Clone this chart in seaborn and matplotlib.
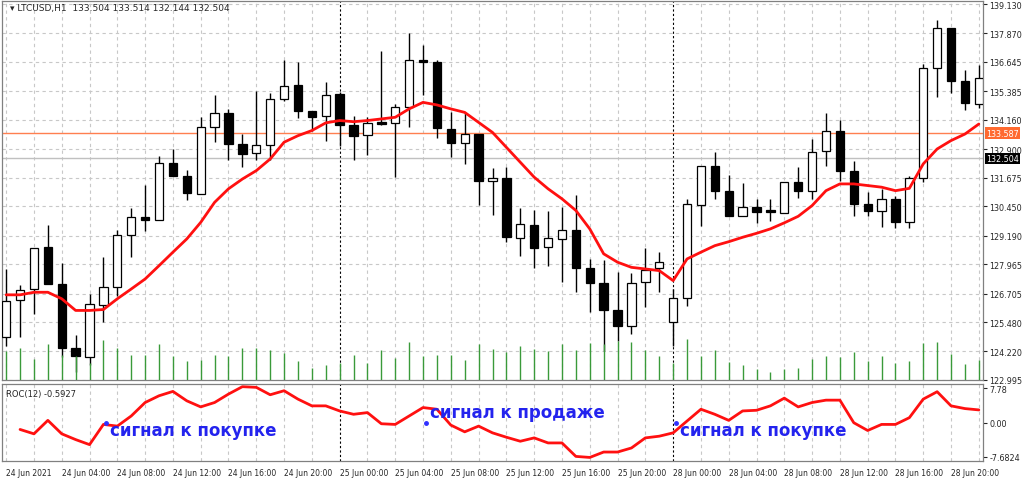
import numpy as np
import pandas as pd
import matplotlib
matplotlib.use("Agg")
import matplotlib.pyplot as plt
import seaborn as sns

# --- данные ---
opens = [124.83, 126.43, 126.89, 128.69, 127.12, 124.37, 123.97, 126.22, 127.00, 129.21,
         129.98, 129.88, 132.32, 131.75, 130.96, 133.85, 134.44, 133.14, 132.74, 133.10,
         135.05, 135.66, 134.55, 134.31, 135.28, 133.94, 133.51, 134.05, 134.01, 134.73,
         136.70, 136.66, 133.77, 133.18, 133.57, 131.52, 131.67, 129.11, 129.65, 128.69,
         129.04, 129.43, 127.79, 127.17, 126.02, 125.30, 127.19, 127.79, 125.47, 126.52,
         130.52, 132.17, 131.12, 130.02, 130.41, 130.25, 130.18, 131.50, 131.12, 132.81,
         133.70, 131.98, 130.55, 130.25, 130.77, 129.77, 131.65, 136.37, 138.09, 135.81,
         134.83]
closes = [126.40, 126.86, 128.65, 127.12, 124.37, 124.04, 126.26, 127.00, 129.21, 129.98,
          129.88, 132.32, 131.75, 131.01, 133.84, 134.44, 133.14, 132.70, 133.08, 135.07,
          135.61, 134.53, 134.30, 135.24, 133.93, 133.48, 134.01, 133.99, 134.73, 136.74,
          136.66, 133.82, 133.18, 133.57, 131.52, 131.67, 129.12, 129.68, 128.68, 129.08,
          129.43, 127.79, 127.17, 126.02, 125.30, 127.15, 127.73, 128.08, 126.50, 130.56,
          132.17, 131.11, 130.05, 130.41, 130.22, 130.22, 131.50, 131.12, 132.77, 133.70,
          131.97, 130.55, 130.25, 130.77, 129.77, 131.68, 136.37, 138.09, 135.84, 134.87,
          135.96]
highs = [127.76, 127.08, 128.65, 129.65, 128.00, 124.93, 126.69, 128.29, 129.43, 130.38,
         131.37, 132.62, 132.89, 132.01, 134.27, 135.24, 134.63, 133.55, 135.41, 135.31,
         136.71, 136.66, 134.55, 135.77, 135.34, 134.31, 134.27, 137.13, 134.83, 137.89,
         137.37, 136.73, 134.48, 134.45, 133.57, 132.10, 132.12, 130.38, 130.29, 130.26,
         130.42, 130.94, 128.19, 128.15, 127.65, 127.59, 128.66, 128.48, 126.90, 130.77,
         132.17, 132.77, 131.81, 131.44, 130.77, 130.77, 131.50, 132.12, 133.34, 134.45,
         134.17, 132.41, 131.05, 131.20, 130.88, 131.77, 136.56, 138.44, 138.09, 136.30,
         136.53]
lows = [124.47, 124.83, 125.83, 127.12, 123.97, 123.33, 123.62, 125.47, 126.62, 128.26,
        129.41, 129.88, 131.75, 130.72, 130.96, 133.19, 132.45, 132.12, 132.45, 132.45,
        134.98, 134.24, 133.70, 133.27, 133.05, 132.45, 132.65, 133.94, 131.72, 133.87,
        135.23, 133.37, 132.55, 132.27, 130.51, 130.09, 128.91, 128.30, 127.82, 127.90,
        127.19, 126.76, 125.90, 124.26, 124.69, 124.97, 126.12, 126.79, 124.47, 126.19,
        129.62, 130.77, 130.05, 130.02, 129.74, 129.84, 130.18, 130.80, 130.77, 132.17,
        131.55, 130.05, 130.02, 129.55, 129.51, 129.53, 131.51, 135.13, 135.31, 134.60,
        134.66]
ma = [126.65, 126.65, 126.76, 126.76, 126.48, 125.98, 125.98, 126.02, 126.48, 126.90,
      127.33, 127.90, 128.48, 129.05, 129.76, 130.62, 131.20, 131.62, 131.98, 132.48,
      133.20, 133.48, 133.70, 134.03, 134.13, 134.08, 134.13, 134.20, 134.27, 134.63,
      134.91, 134.80, 134.63, 134.48, 134.05, 133.62, 132.98, 132.34, 131.70, 131.20,
      130.77, 130.27, 129.48, 128.41, 128.05, 127.83, 127.76, 127.69, 127.26, 128.19,
      128.48, 128.76, 128.93, 129.12, 129.29, 129.48, 129.74, 130.02, 130.48, 131.12,
      131.41, 131.41, 131.34, 131.27, 131.12, 131.22, 132.27, 132.91, 133.27, 133.55,
      133.98]
volumes = [85, 95, 62, 105, 75, 70, 50, 118, 95, 75, 75, 105, 70, 55, 60, 75, 70, 95, 95, 90,
           80, 55, 35, 45, 50, 75, 50, 90, 65, 112, 72, 75, 75, 60, 105, 92, 82, 100, 92, 85,
           107, 90, 110, 105, 115, 112, 90, 70, 50, 122, 70, 88, 52, 44, 33, 25, 32, 36, 63, 70,
           67, 84, 55, 70, 50, 55, 108, 112, 78, 46, 60]
roc = [-1.51, -2.49, 0.53, -2.49, -3.78, -4.91, -0.38, -0.76, 1.51, 4.53,
       6.04, 7.02, 4.91, 3.55, 4.53, 6.42, 8.08, 7.93, 6.27, 7.17,
       5.29, 3.78, 3.78, 2.64, 1.89, 2.27, -0.23, -0.38, 1.51, 3.40,
       3.02, -0.53, -2.04, -0.76, -2.27, -3.25, -4.15, -3.40, -4.53, -4.53,
       -7.55, -7.78, -6.57, -6.57, -5.66, -3.40, -3.02, -2.27, 0.38, 3.02,
       1.89, 0.53, 2.64, 2.79, 3.78, 5.51, 3.55, 4.53, 5.06, 5.06,
       0.00, -1.74, -0.38, -0.38, 1.13, 5.29, 6.95, 3.78, 3.17, 2.87]
price_ticks = [139.130, 137.870, 136.645, 135.385, 134.160, 132.900, 131.675, 130.450,
               129.190, 127.965, 126.705, 125.480, 124.220, 122.995]
time_labels = ["24 Jun 2021", "24 Jun 04:00", "24 Jun 08:00", "24 Jun 12:00", "24 Jun 16:00",
               "24 Jun 20:00", "25 Jun 00:00", "25 Jun 04:00", "25 Jun 08:00", "25 Jun 12:00",
               "25 Jun 16:00", "25 Jun 20:00", "28 Jun 00:00", "28 Jun 04:00", "28 Jun 08:00",
               "28 Jun 12:00", "28 Jun 16:00", "28 Jun 20:00"]
ask_price = 133.587
bid_price = 132.504
signals = [(7.5, "сигнал к покупке", 0), (30.5, "сигнал к продаже", 1), (48.5, "сигнал к покупке", 0)]

sns.set_style("white")
plt.rcParams["font.family"] = ["DejaVu Sans"]

n = len(opens)
idx = np.arange(n)
df = pd.DataFrame({"i": idx, "o": opens, "c": closes, "h": highs, "l": lows, "ma": ma, "vol": volumes})
roc_df = pd.DataFrame({"i": np.arange(1, len(roc) + 1), "roc": roc})

W, H = 1024, 481
fig = plt.figure(figsize=(W / 100, H / 100), dpi=100)
ax = fig.add_axes([2 / W, 1 - 381 / H, 981 / W, 379 / H])
axr = fig.add_axes([2 / W, 1 - 462 / H, 981 / W, 77 / H], sharex=ax)

xlim = (-0.3, 70.3)
grid_kw = dict(color="#c8c8c8", lw=0.8, ls=(0, (3, 3)))

# сетка
for t in price_ticks:
    ax.axhline(t, zorder=0, **grid_kw)
for gx in range(0, n, 2):
    if gx in (24, 48):
        continue
    ax.axvline(gx, zorder=0, **grid_kw)
    axr.axvline(gx, zorder=0, **grid_kw)
for sep in (24, 48):
    ax.axvline(sep, color="black", lw=0.8, ls=(0, (2, 2)), zorder=0)
    axr.axvline(sep, color="black", lw=0.8, ls=(0, (2, 2)), zorder=0)

# объёмы
axv = ax.twinx()
axv.vlines(df["i"], 0, df["vol"], color="#3a9a3a", lw=1.0)
axv.set_ylim(0, 1120)
axv.axis("off")

# свечи
ax.axhline(ask_price, color="#ff7f50", lw=1.0, zorder=1)
ax.axhline(bid_price, color="#c0c0c0", lw=1.0, zorder=1)
ax.vlines(df["i"], df["l"], df["h"], color="black", lw=1.0, zorder=2)
bull = df["c"] >= df["o"]
body = (df["c"] - df["o"]).abs().clip(lower=0.06)
bottom = df[["o", "c"]].min(axis=1)
ax.bar(df["i"][bull], body[bull], bottom=bottom[bull], width=0.6, color="white",
       edgecolor="black", lw=0.9, zorder=3)
ax.bar(df["i"][~bull], body[~bull], bottom=bottom[~bull], width=0.6, color="black",
       edgecolor="black", lw=0.9, zorder=3)
sns.lineplot(data=df, x="i", y="ma", ax=ax, color="#ff1010", lw=2.0, zorder=4)

ax.set_xlim(*xlim)
ax.set_ylim(122.995, 139.26)
ax.yaxis.tick_right()
ax.set_yticks(price_ticks)
ax.set_yticklabels([f"{t:.3f}" for t in price_ticks], fontsize=5.8)
ax.tick_params(axis="y", length=3, pad=1.5)
ax.tick_params(axis="x", bottom=False, labelbottom=False)
ax.set_xlabel("")
ax.set_ylabel("")
ax.text(0.008, 0.995, "\u25be LTCUSD,H1  133.504 133.514 132.144 132.504", transform=ax.transAxes,
        fontsize=6.5, va="top", ha="left")
for val, fc, tc in ((ask_price, "#ff6a30", "white"), (bid_price, "black", "white")):
    ax.text(1.003, val, f"{val:.3f}", transform=ax.get_yaxis_transform(), fontsize=5.8,
            color=tc, va="center", ha="left",
            bbox=dict(boxstyle="square,pad=0.15", fc=fc, ec="none"))

# ROC
sns.lineplot(data=roc_df, x="i", y="roc", ax=axr, color="#ff1010", lw=2.0)
axr.set_ylim(-8.58, 8.68)
axr.yaxis.tick_right()
axr.set_yticks([7.78, 0.0, -7.6824])
axr.set_yticklabels(["7.78", "0.00", "-7.6824"], fontsize=5.8)
axr.tick_params(axis="y", length=3, pad=1.5)
axr.set_ylabel("")
axr.set_xlabel("")
axr.text(0.004, 0.93, "ROC(12) -0.5927", transform=axr.transAxes, fontsize=6, va="top")
axr.set_xticks(range(0, n, 4))
axr.set_xticklabels(time_labels, fontsize=5.5, ha="left")
axr.tick_params(axis="x", length=3, pad=2)
for x0, label, up in signals:
    axr.plot(x0 - 0.3, 0, "o", color="#3030ff", ms=2.5)
    axr.text(x0, 2.4 if up else -1.7, label, fontsize=12, fontweight="bold",
             color="#2323ee", va="center", ha="left")

for a in (ax, axr):
    for s in a.spines.values():
        s.set_color("#808080")
        s.set_linewidth(0.9)

fig.savefig("out.png", dpi=100)
